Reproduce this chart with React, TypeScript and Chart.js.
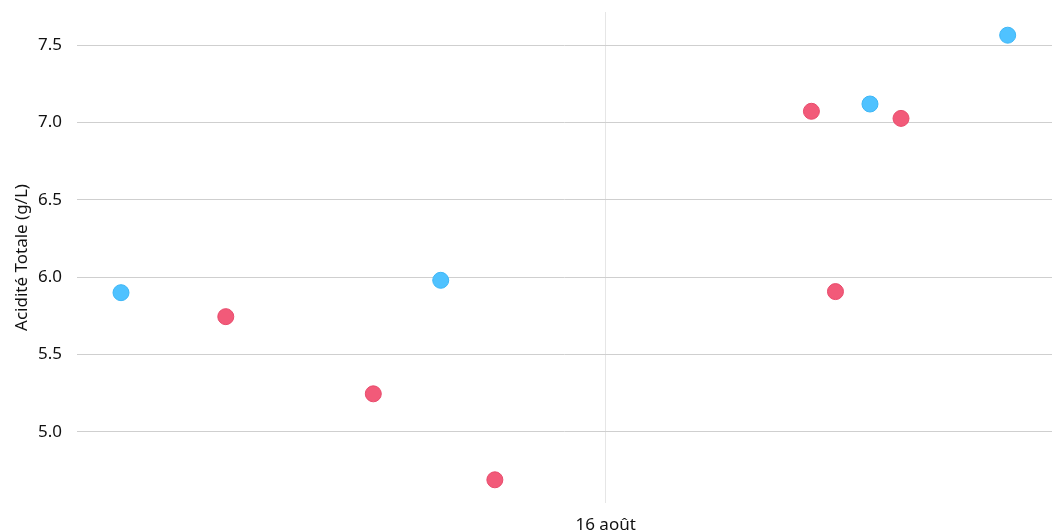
import React, { useEffect, useRef } from "react";
import { Chart, registerables } from "chart.js";

Chart.register(...registerables);

// x values: day of August (fractional)
const blueX = [0.69, 10.79, 24.35, 28.7];
const blueY = [5.9, 5.98, 7.12, 7.565];
const redX = [4.0, 8.66, 12.5, 22.5, 23.26, 25.33];
const redY = [5.745, 5.246, 4.69, 7.073, 5.907, 7.027];
const xTicks = [16];
const xTickLabels = ["16 août"];
const yTicks = [5.0, 5.5, 6.0, 6.5, 7.0, 7.5];
const yTitle = "Acidité Totale (g/L)";

export default function App() {
  const ref = useRef<HTMLCanvasElement | null>(null);
  useEffect(() => {
    document.body.style.margin = "0";
    const ctx = ref.current!;
    const font = "'Noto Sans', sans-serif";
    const chart = new Chart(ctx, {
      type: "scatter",
      data: {
        datasets: [
          {
            label: "A",
            data: blueX.map((x, i) => ({ x, y: blueY[i] })),
            backgroundColor: "#4fc2ff",
            borderColor: "#3db6f6",
            borderWidth: 1,
            pointRadius: 8,
          },
          {
            label: "B",
            data: redX.map((x, i) => ({ x, y: redY[i] })),
            backgroundColor: "#f25a79",
            borderColor: "#e84b6c",
            borderWidth: 1,
            pointRadius: 8,
          },
        ],
      },
      options: {
        animation: false,
        responsive: false,
        maintainAspectRatio: false,
        layout: { autoPadding: false, padding: { top: 12, right: 0, left: 12, bottom: 0 } },
        plugins: { legend: { display: false }, tooltip: { enabled: false } },
        scales: {
          x: {
            type: "linear",
            min: -0.7,
            max: 30.1,
            afterBuildTicks: (s: any) => {
              s.ticks = xTicks.map((v) => ({ value: v }));
            },
            afterFit: (s: any) => {
              s.height = 29;
              s.paddingLeft = 0;
              s.paddingRight = 0;
            },
            ticks: {
              callback: (v: any) => {
                const i = xTicks.indexOf(Number(v));
                return i >= 0 ? xTickLabels[i] : "";
              },
              font: { family: font, size: 17 },
              color: "#111",
              padding: 12,
              maxRotation: 0,
            },
            grid: { color: "#e6e6e6", drawTicks: false },
            border: { display: false },
          },
          y: {
            min: 4.54,
            max: 7.715,
            afterBuildTicks: (s: any) => {
              s.ticks = yTicks.map((v) => ({ value: v }));
            },
            afterFit: (s: any) => {
              s.width = 65;
              s.paddingTop = 0;
              s.paddingBottom = 0;
            },
            ticks: {
              callback: (v: any) => Number(v).toFixed(1),
              font: { family: font, size: 17 },
              color: "#111",
              padding: 15,
            },
            grid: { color: "#cfcfcf", drawTicks: false },
            border: { display: false },
            title: {
              display: true,
              text: yTitle,
              font: { family: font, size: 17 },
              color: "#111",
              padding: { top: 0, bottom: 4 },
            },
          },
        },
      },
    });
    return () => chart.destroy();
  }, []);
  return (
    <div style={{ width: 1052, height: 532 }}>
      <canvas ref={ref} width={1052} height={532} style={{ display: "block" }} />
    </div>
  );
}
